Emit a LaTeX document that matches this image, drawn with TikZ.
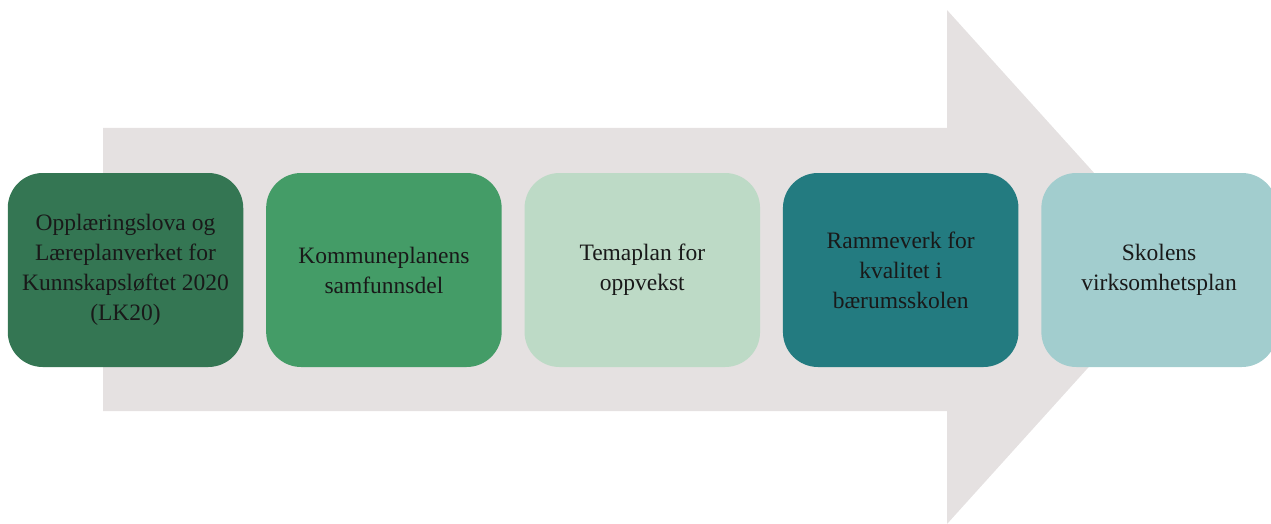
\documentclass[tikz,border=0pt]{standalone}
\usepackage{fontspec}
\setmainfont{Liberation Serif}
\usetikzlibrary{positioning}
\definecolor{arrowgrey}{HTML}{E5E1E1}
\definecolor{darkgreen}{HTML}{347653}
\definecolor{midgreen}{HTML}{449C67}
\definecolor{palegreen}{HTML}{BDDAC6}
\definecolor{darkteal}{HTML}{237B80}
\definecolor{paleteal}{HTML}{A2CDCE}
\tikzset{
	planbox/.style={rounded corners=35pt, minimum width=235.5pt, minimum height=194pt,
		align=center, inner sep=4pt, text=black!90, font=\fontsize{23.5}{30}\selectfont},
}
\begin{document}
\begin{tikzpicture}[x=1pt,y=-1pt]
				\clip (0,0) rectangle (1271,524);
				% big arrow in the background
				\fill[arrowgrey] (103,128) -- (947,128) -- (947,10) -- (1179,267) -- (947,524) -- (947,411) -- (103,411) -- cycle;
				\node[planbox, fill=darkgreen] (lov) at (125.5,270) {Opplæringslova og\\Læreplanverket for\\Kunnskapsløftet 2020\\(LK20)};
				\node[planbox, fill=midgreen, right=22.5pt of lov] (kommune) {Kommuneplanens\\samfunnsdel};
				\node[planbox, fill=palegreen, right=22.5pt of kommune] (tema) {Temaplan for\\oppvekst};
				\node[planbox, fill=darkteal, right=22.5pt of tema] (ramme) {Rammeverk for\\kvalitet i\\bærumsskolen};
				\node[planbox, fill=paleteal, right=22.5pt of ramme] (skole) {Skolens\\virksomhetsplan};
			\end{tikzpicture}
\end{document}
